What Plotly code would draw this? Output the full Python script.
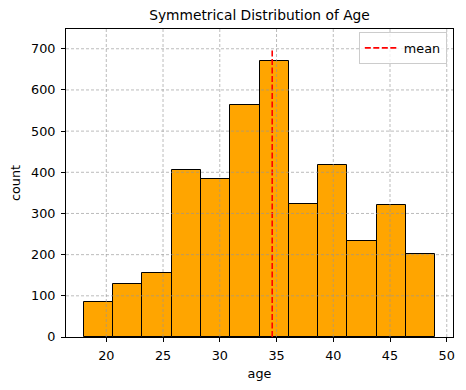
import numpy as np
import plotly.graph_objects as go

# Data
bin_start = 18
bin_end = 49
counts = [84, 129, 155, 405, 384, 564, 671, 324, 418, 234, 321, 201]
mean_age = 34.62
mean_line_top = 700
x_ticks = [20, 25, 30, 35, 40, 45, 50]
y_ticks = [0, 100, 200, 300, 400, 500, 600, 700]
title_text = "Symmetrical Distribution of Age"

nb = len(counts)
edges = np.linspace(bin_start, bin_end, nb + 1)
centers = (edges[:-1] + edges[1:]) / 2
width = edges[1] - edges[0]

FONT = "DejaVu Sans"
FS = 12.8
OFF = 8  # page body margin of the default html

W, H = 466 - OFF, 390 - OFF

fig = go.Figure()
fig.add_trace(go.Bar(
    x=centers, y=counts, width=[width] * nb,
    marker=dict(color="#FFA500", line=dict(color="black", width=1)),
    showlegend=False, hoverinfo="skip",
))
fig.add_trace(go.Scatter(
    x=[mean_age, mean_age], y=[0, mean_line_top], mode="lines",
    line=dict(color="red", width=1.6, dash="6px,2.5px"), name="mean",
))

# grid lines drawn above bars (matplotlib style)
xr = [bin_start - 0.05 * (bin_end - bin_start), bin_end + 0.05 * (bin_end - bin_start)]
yr = [0, 748]
GRID = dict(color="rgba(150,150,150,0.8)", width=0.8, dash="3px,2px")
for xt in x_ticks:
    fig.add_shape(type="line", xref="x", yref="paper", x0=xt, x1=xt, y0=0, y1=1,
                  line=GRID, layer="above")
for yt in y_ticks:
    if yt == yr[0]:
        continue
    fig.add_shape(type="line", xref="paper", yref="y", x0=0, x1=1, y0=yt, y1=yt,
                  line=GRID, layer="above")

fig.update_layout(
    width=W, height=H,
    margin=dict(l=66 - OFF, r=13, t=29 - OFF, b=53, autoexpand=False),
    plot_bgcolor="white", paper_bgcolor="white",
    font=dict(family=FONT, size=FS, color="black"),
    title=dict(text=title_text, x=0.5, xref="paper", xanchor="center",
               y=1 - (15 - OFF) / H, yref="container", yanchor="middle",
               font=dict(family=FONT, size=13.8, color="black")),
    bargap=0,
    legend=dict(x=0.984, y=0.99, xanchor="right", yanchor="top",
                bgcolor="rgba(255,255,255,0.8)", bordercolor="#cccccc", borderwidth=1,
                font=dict(family=FONT, size=FS), itemwidth=34),
    xaxis=dict(range=xr, tickvals=x_ticks, showgrid=False, zeroline=False,
               showline=True, linecolor="black", linewidth=1, mirror=True,
               ticks="outside", ticklen=4, tickwidth=1, tickcolor="black",
               ticklabelstandoff=3, automargin=False,
               title=dict(text="age", standoff=6, font=dict(size=FS))),
    yaxis=dict(range=yr, tickvals=y_ticks, showgrid=False, zeroline=False,
               showline=True, linecolor="black", linewidth=1, mirror=True,
               ticks="outside", ticklen=4, tickwidth=1, tickcolor="black",
               ticklabelstandoff=3, automargin=False,
               title=dict(text="count", standoff=8, font=dict(size=FS))),
)

fig.write_html("out.html")
